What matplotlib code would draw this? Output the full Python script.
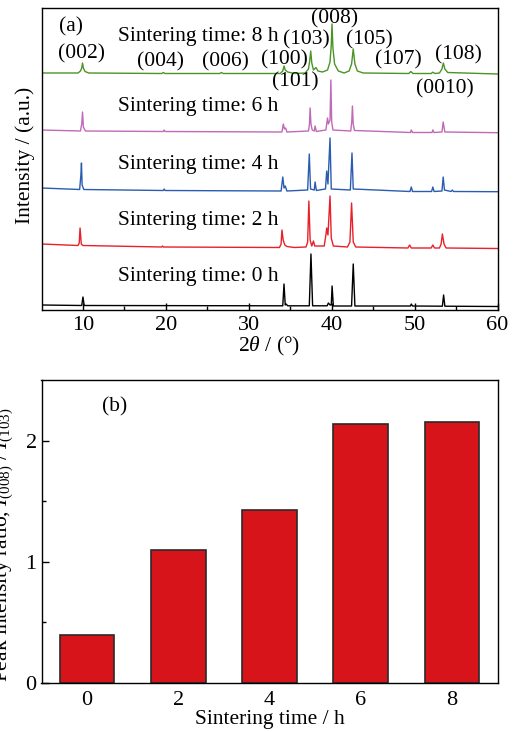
#===============================================================================
# XRD patterns vs sintering time (a) and I(008)/I(103) ratio (b)
#===============================================================================
import matplotlib
matplotlib.use('Agg')
import matplotlib.pyplot as plt

plt.rcParams['font.family'] = ['Liberation Serif', 'DejaVu Serif']
plt.rcParams['mathtext.fontset'] = 'custom'
plt.rcParams['mathtext.rm'] = 'Liberation Serif'
plt.rcParams['mathtext.it'] = 'Liberation Serif:italic'

#===============================================================================
# Data (stacked intensities in a.u.)
#===============================================================================
tt_0h = [5, 9.85, 10.0, 10.15, 34.1, 34.25, 34.4, 34.5, 34.7, 37.3, 37.5, 37.7,
         39.45, 39.6, 39.8, 39.95, 40.05, 40.2, 42.4, 42.6, 42.8, 49.5, 49.6,
         49.75, 53.35, 53.5, 53.65, 60]
I_0h = [5, 4.5, 13, 4.5, 4.2, 26, 5, 6, 4.2, 4.2, 56, 4.2,
        4.2, 7, 5, 5, 24, 4, 4, 46, 4, 4, 6,
        4, 3.8, 15, 3.8, 3.5]

tt_2h = [5, 9.4, 9.55, 9.65, 9.8, 10.0, 19.5, 19.6, 19.7, 33.7, 33.9, 34.0,
         34.15, 34.35, 34.6, 35.5, 36.9, 37.1, 37.25, 37.4, 37.6, 37.8, 37.95,
         39.1, 39.3, 39.4, 39.55, 39.8, 39.95, 40.2, 41.9, 42.2, 42.4, 42.6,
         42.9, 49.2, 49.4, 49.6, 52.0, 52.2, 52.4, 53.0, 53.2, 53.35, 53.55,
         53.8, 60]
I_2h = [66, 64.5, 67, 82, 66, 64.5, 63, 64, 63, 62.5, 66, 80,
        70, 65, 63.5, 62.5, 63, 68, 109, 70, 64, 69, 64,
        64, 75, 82, 75, 114, 72, 64, 63, 68, 107, 68,
        63, 62, 65, 62, 62, 65, 62, 62, 66, 76, 66,
        62, 61.5]

tt_4h = [5, 9.6, 9.75, 9.82, 9.9, 10.1, 19.7, 19.8, 19.9, 33.9, 34.1, 34.25,
         34.4, 34.6, 37.1, 37.3, 37.45, 37.9, 38.0, 38.15, 39.25, 39.4, 39.55,
         39.8, 39.95, 42.25, 42.45, 42.6, 49.45, 49.6, 49.75, 52.05, 52.2,
         52.35, 53.3, 53.45, 53.6, 54.4, 54.55, 54.7, 60]
I_4h = [122, 120.5, 135, 147, 125, 120.5, 119.5, 121, 119.5, 119, 133, 122,
        124, 119, 120, 156, 121, 120, 128, 119.5, 121, 139, 126,
        172, 121, 120, 157, 121, 118.5, 123, 118.5, 118.5, 123,
        118.5, 119, 133, 120, 118.5, 120, 118.5, 118.3]

tt_6h = [5, 9.7, 9.85, 9.95, 10.05, 10.3, 19.7, 19.8, 19.9, 34.0, 34.17, 34.3,
         34.45, 34.6, 37.2, 37.32, 37.4, 37.5, 37.65, 37.9, 38.0, 38.15, 39.3,
         39.5, 39.6, 39.8, 39.9, 40.0, 40.15, 42.3, 42.42, 42.5, 42.6, 42.75,
         49.5, 49.6, 49.75, 52.1, 52.2, 52.35, 53.3, 53.45, 53.65, 60]
I_6h = [180, 179, 186, 198, 183, 179, 178.5, 180, 178.5, 178, 186, 181,
        182, 178, 179, 186, 202, 186, 180, 179, 184, 178.5, 180,
        192, 186, 190, 230, 188, 180, 179, 188, 204, 186, 179.5,
        177.5, 180, 177.5, 177.5, 180, 177.5, 178, 188, 178, 177.3]

tt_8h = [5, 9.4, 9.7, 9.85, 9.95, 10.05, 10.25, 10.7, 19.5, 19.7, 19.9, 26.5,
         26.7, 26.9, 33.8, 34.1, 34.25, 34.4, 34.7, 35.5, 36.8, 37.2, 37.35,
         37.47, 37.6, 37.8, 38.1, 38.35, 38.9, 39.5, 39.8, 39.95, 40.04, 40.15,
         40.35, 40.8, 41.5, 42.1, 42.4, 42.6, 42.8, 43.1, 43.8, 49.3, 49.55,
         49.8, 52.0, 52.2, 52.45, 53.0, 53.3, 53.47, 53.65, 54.0, 60]
I_8h = [237, 237, 239, 242, 247, 242, 238.5, 237, 236.5, 237.5, 236.5, 236.5,
        237.5, 236.5, 236.5, 239, 244, 240, 238, 236.5, 237, 241, 249,
        259, 247, 240, 242.5, 239, 238, 240, 248, 265, 286, 262,
        246, 239, 237, 239, 246, 261, 246, 239, 237, 236.5, 238.5,
        236.5, 236.5, 237.8, 236.5, 237, 241, 247, 241, 237.5, 236]

patterns = [(tt_0h, I_0h, 'black'), (tt_2h, I_2h, '#e8202a'),
            (tt_4h, I_4h, '#2a5cb0'), (tt_6h, I_6h, '#c06ab8'),
            (tt_8h, I_8h, '#4a9428')]

label_texts = ['Sintering time: 0 h', 'Sintering time: 2 h', 'Sintering time: 4 h',
               'Sintering time: 6 h', 'Sintering time: 8 h']
label_y = [33, 90, 145, 203, 273]

hkl = ['(002)', '(004)', '(006)', '(100)', '(101)', '(103)', '(008)', '(105)',
       '(107)', '(108)', '(0010)']
hkl_x = [9.85, 19.3, 27.2, 34.3, 35.6, 36.9, 40.4, 44.6, 48.0, 55.3, 53.7]
hkl_y = [256, 248, 248, 250, 228, 270, 291, 270, 250, 255, 221]

times = [0, 2, 4, 6, 8]
ratio = [0.40, 1.10, 1.425, 2.14, 2.15]

#===============================================================================
# Plot
#===============================================================================
fs = 15.5
fig = plt.figure(figsize=(5.14, 7.32), dpi=100)
ax1 = fig.add_axes([41.5/514, 422/732, 456/514, 302/732])
ax2 = fig.add_axes([41.5/514, 49/732, 456/514, 303/732])

for tt, I, c in patterns:
    ax1.plot(tt, I, color=c, lw=1.0)

for t, y in zip(label_texts, label_y):
    ax1.text(14.2, y, t, fontsize=fs, va='center', ha='left')
for t, x, y in zip(hkl, hkl_x, hkl_y):
    ax1.text(x, y, t, fontsize=fs, va='center', ha='center')
ax1.text(8.6, 283, '(a)', fontsize=fs, va='center', ha='center')

ax1.set_xlim(5, 60)
ax1.set_ylim(0, 302)
ax1.set_xticks([10, 20, 30, 40, 50, 60])
ax1.set_xticks([15, 25, 35, 45, 55], minor=True)
ax1.set_yticks([])
ax1.tick_params(axis='x', direction='in', length=5, width=1, labelsize=16, pad=4)
ax1.tick_params(axis='x', which='minor', direction='in', length=3, width=1)
ax1.set_xlabel(r'2$\theta$ / (°)', fontsize=fs, labelpad=0)
fig.text(25/514, 1 - 155/732, 'Intensity / (a.u.)', fontsize=fs, rotation=90,
         ha='center', va='center')

ax2.bar(times, ratio, width=1.2, color='#d7141a', edgecolor='#2a2a2a', lw=1.2)
ax2.set_xlim(-1, 9)
ax2.set_ylim(0, 2.5)
ax2.set_xticks(times)
ax2.set_yticks([0, 1, 2])
ax2.set_yticks([0.5, 1.5], minor=True)
ax2.tick_params(direction='in', length=5, width=1, labelsize=16)
ax2.tick_params(which='minor', direction='in', length=3, width=1)
ax2.tick_params(axis='x', length=0, pad=6)
ax2.set_xlabel('Sintering time / h', fontsize=fs, labelpad=0)
ax2.text(0.6, 2.28, '(b)', fontsize=fs, va='center', ha='center')
fig.text(3/514, 1 - 545/732,
         r'Peak intensity ratio, $\mathit{I}_{(008)}$ / $\mathit{I}_{(103)}$',
         fontsize=fs, rotation=90, ha='center', va='center')

for ax in (ax1, ax2):
    for s in ax.spines.values():
        s.set_linewidth(1.0)

plt.savefig('out.png', dpi=100)
